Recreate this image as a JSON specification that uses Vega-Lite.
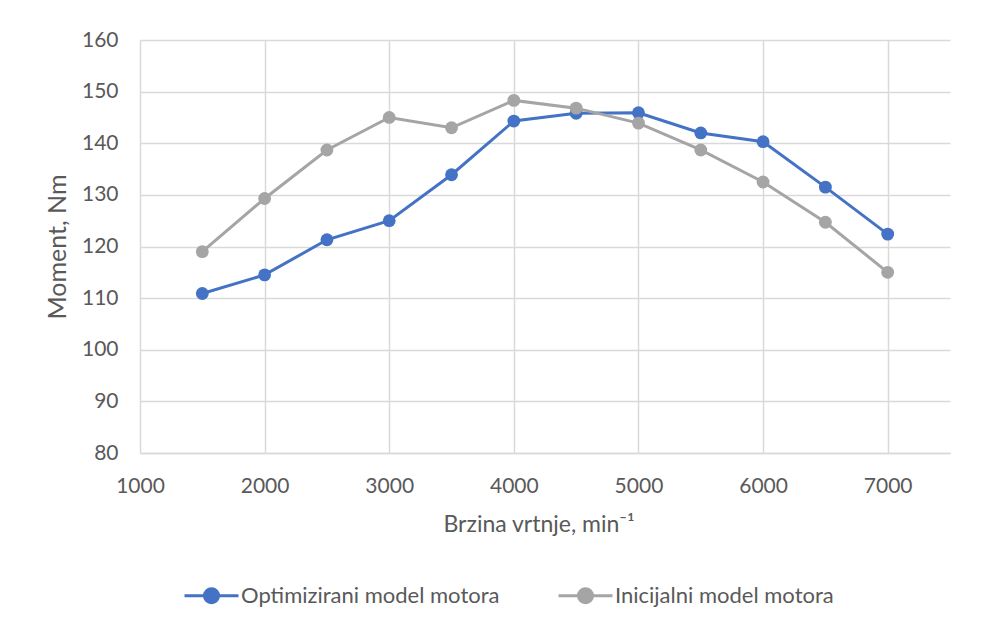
{
  "$schema": "https://vega.github.io/schema/vega-lite/v6.json",
  "width": 810,
  "height": 413,
  "autosize": {"type": "none"},
  "padding": {"left": 140, "top": 40, "right": 40, "bottom": 174},
  "background": "white",
  "config": {
    "view": {"stroke": null},
    "font": "Lato"
  },
  "data": {
    "values": [
      {"rpm": 1500, "moment": 110.9, "series": "Optimizirani model motora"},
      {"rpm": 2000, "moment": 114.5, "series": "Optimizirani model motora"},
      {"rpm": 2500, "moment": 121.3, "series": "Optimizirani model motora"},
      {"rpm": 3000, "moment": 125.0, "series": "Optimizirani model motora"},
      {"rpm": 3500, "moment": 133.9, "series": "Optimizirani model motora"},
      {"rpm": 4000, "moment": 144.3, "series": "Optimizirani model motora"},
      {"rpm": 4500, "moment": 145.8, "series": "Optimizirani model motora"},
      {"rpm": 5000, "moment": 145.9, "series": "Optimizirani model motora"},
      {"rpm": 5500, "moment": 142.0, "series": "Optimizirani model motora"},
      {"rpm": 6000, "moment": 140.3, "series": "Optimizirani model motora"},
      {"rpm": 6500, "moment": 131.5, "series": "Optimizirani model motora"},
      {"rpm": 7000, "moment": 122.4, "series": "Optimizirani model motora"},
      {"rpm": 1500, "moment": 119.0, "series": "Inicijalni model motora"},
      {"rpm": 2000, "moment": 129.3, "series": "Inicijalni model motora"},
      {"rpm": 2500, "moment": 138.7, "series": "Inicijalni model motora"},
      {"rpm": 3000, "moment": 145.0, "series": "Inicijalni model motora"},
      {"rpm": 3500, "moment": 143.0, "series": "Inicijalni model motora"},
      {"rpm": 4000, "moment": 148.3, "series": "Inicijalni model motora"},
      {"rpm": 4500, "moment": 146.8, "series": "Inicijalni model motora"},
      {"rpm": 5000, "moment": 143.9, "series": "Inicijalni model motora"},
      {"rpm": 5500, "moment": 138.7, "series": "Inicijalni model motora"},
      {"rpm": 6000, "moment": 132.5, "series": "Inicijalni model motora"},
      {"rpm": 6500, "moment": 124.7, "series": "Inicijalni model motora"},
      {"rpm": 7000, "moment": 115.0, "series": "Inicijalni model motora"}
    ]
  },
  "encoding": {
    "x": {
      "field": "rpm",
      "type": "quantitative",
      "scale": {"domain": [1000, 7500], "nice": false, "zero": false},
      "axis": {
        "values": [1000, 2000, 3000, 4000, 5000, 6000, 7000],
        "format": "d",
        "grid": true,
        "gridColor": "#d9d9d9",
        "gridWidth": 1.5,
        "domainColor": "#d9d9d9",
        "domainWidth": 1.5,
        "ticks": false,
        "labelFontSize": 21,
        "labelColor": "#595959",
        "labelPadding": 22,
        "labelFlush": false,
        "labelOverlap": false,
        "title": "Brzina vrtnje, min⁻¹",
        "titleFontSize": 23,
        "titleFontWeight": "normal",
        "titleColor": "#595959",
        "titlePadding": 17,
        "titleX": 303,
        "titleAlign": "left",
        "titleAnchor": "start"
      }
    },
    "y": {
      "field": "moment",
      "type": "quantitative",
      "scale": {"domain": [80, 160], "nice": false, "zero": false},
      "axis": {
        "values": [80, 90, 100, 110, 120, 130, 140, 150, 160],
        "grid": true,
        "gridColor": "#d9d9d9",
        "gridWidth": 1.5,
        "domain": false,
        "ticks": false,
        "labelFontSize": 21,
        "labelColor": "#595959",
        "labelPadding": 22,
        "title": "Moment, Nm",
        "titleFontSize": 25,
        "titleFontWeight": "normal",
        "titleColor": "#595959",
        "titlePadding": 11
      }
    },
    "color": {
      "field": "series",
      "type": "nominal",
      "scale": {
        "domain": ["Optimizirani model motora", "Inicijalni model motora"],
        "range": ["#4472C4", "#A5A5A5"]
      },
      "legend": {
        "title": null,
        "orient": "none",
        "direction": "horizontal",
        "legendX": 43,
        "legendY": 527,
        "padding": 0,
        "symbolType": "M-1,0H1M-0.26,0A0.26,0.26,0,1,1,0.26,0A0.26,0.26,0,1,1,-0.26,0Z",
        "symbolSize": 2916,
        "symbolStrokeWidth": 3,
        "labelFontSize": 22,
        "labelColor": "#595959",
        "labelOffset": 1,
        "columnPadding": 52,
        "labelLimit": 400,
        "encode": {
          "symbols": {
            "update": {
              "fill": {"scale": "color", "field": "value"},
              "stroke": {"scale": "color", "field": "value"},
              "strokeWidth": {"value": 3},
              "opacity": {"value": 1}
            }
          }
        }
      }
    }
  },
  "layer": [
    {
      "transform": [{"filter": "datum.series === 'Optimizirani model motora'"}],
      "mark": {"type": "line", "strokeWidth": 3}
    },
    {
      "transform": [{"filter": "datum.series === 'Optimizirani model motora'"}],
      "mark": {"type": "point", "filled": true, "size": 165, "opacity": 1}
    },
    {
      "transform": [{"filter": "datum.series === 'Inicijalni model motora'"}],
      "mark": {"type": "line", "strokeWidth": 3}
    },
    {
      "transform": [{"filter": "datum.series === 'Inicijalni model motora'"}],
      "mark": {"type": "point", "filled": true, "size": 165, "opacity": 1}
    }
  ]
}
